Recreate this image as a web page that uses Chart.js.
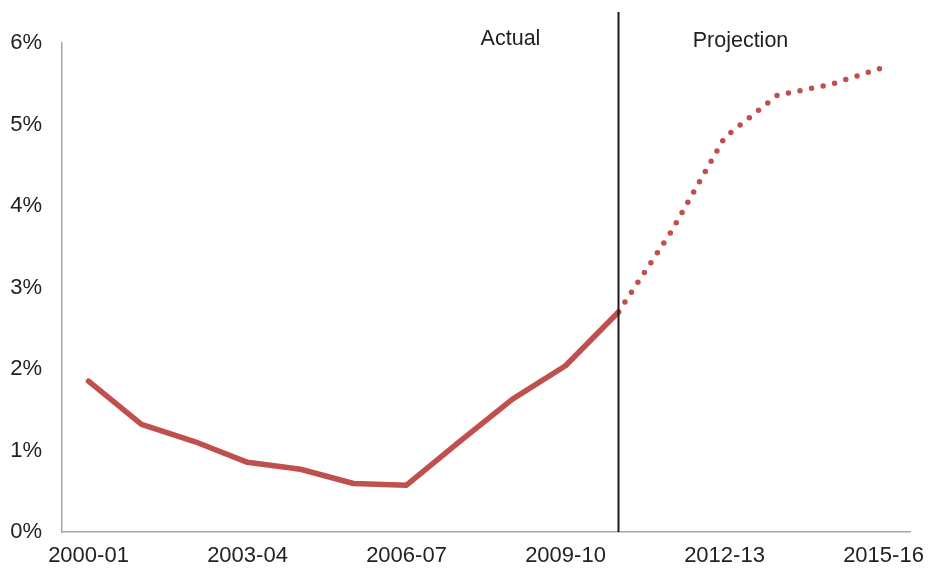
<!DOCTYPE html>
<html>
<head>
<meta charset="utf-8">
<script src="https://cdn.jsdelivr.net/npm/chart.js@4"></script>
<style>
  html, body { margin:0; padding:0; background:#fff; }
  .wrap { width:929px; height:569px; position:relative; }
</style>
</head>
<body>
<div class="wrap"><canvas id="ch"></canvas></div>
<script>
const years = ['2000-01','2001-02','2002-03','2003-04','2004-05','2005-06','2006-07','2007-08',
               '2008-09','2009-10','2010-11','2011-12','2012-13','2013-14','2014-15','2015-16'];
const actual = [1.85,1.32,1.11,0.855,0.77,0.595,0.575,1.11,1.63,2.04,2.70,null,null,null,null,null];
const projection = [null,null,null,null,null,null,null,null,null,null,2.70,3.69,4.84,5.36,5.49,5.70];
const yTicks = [0,1,2,3,4,5,6];
const splitAt = '2010-11';

const red = '#C0504D';
const txt = '#222';
const font = { family:'Liberation Sans, Arial, sans-serif', size:22 };

const dividerPlugin = {
  id:'divider',
  afterDatasetsDraw(chart) {
    const { ctx, chartArea, scales:{ x } } = chart;
    const px = x.getPixelForValue(years.indexOf(splitAt));
    ctx.save();
    ctx.strokeStyle = '#1a1a1a';
    ctx.lineWidth = 2;
    ctx.beginPath();
    ctx.moveTo(px, 12);
    ctx.lineTo(px, chartArea.bottom);
    ctx.stroke();
    ctx.fillStyle = txt;
    ctx.font = '21.5px "Liberation Sans", Arial, sans-serif';
    ctx.textAlign = 'center';
    ctx.textBaseline = 'alphabetic';
    ctx.fillText('Actual', px - 108, 45);
    ctx.fillText('Projection', px + 122, 47);
    ctx.restore();
  }
};

new Chart(document.getElementById('ch').getContext('2d'), {
  type:'line',
  data:{
    labels: years,
    datasets:[
      { label:'Actual', data: actual, borderColor: red, borderWidth:5.5,
        pointRadius:0, tension:0, borderJoinStyle:'round', borderCapStyle:'round' },
      { label:'Projection', data: projection, borderColor: red, borderWidth:5.5,
        borderDash:[0, 11.8], borderCapStyle:'round', pointRadius:0, tension:0 }
    ]
  },
  options:{
    responsive:true, maintainAspectRatio:false, animation:false,
    layout:{ padding:{ top:43, right:19, left:0, bottom:0 } },
    plugins:{ legend:{ display:false }, tooltip:{ enabled:false } },
    scales:{
      x:{ offset:true,
          afterFit: s => { s.height = 37; s.paddingLeft = 0; s.paddingRight = 0; },
          grid:{ display:false, drawTicks:false },
          border:{ color:'#a6a6a6', width:1.5 },
          ticks:{ font, color: txt, padding:11, autoSkip:false, maxRotation:0,
                  callback:(v, i) => i % 3 === 0 ? years[i] : '' } },
      y:{ min:0, max:6,
          afterBuildTicks: s => { s.ticks = yTicks.map(v => ({ value:v })); },
          afterFit: s => { s.width = 62; },
          grid:{ display:false, drawTicks:false },
          border:{ color:'#a6a6a6', width:1.5 },
          ticks:{ font, color: txt, padding:20, callback: v => v + '%' } }
    }
  },
  plugins:[dividerPlugin]
});
</script>
</body>
</html>
